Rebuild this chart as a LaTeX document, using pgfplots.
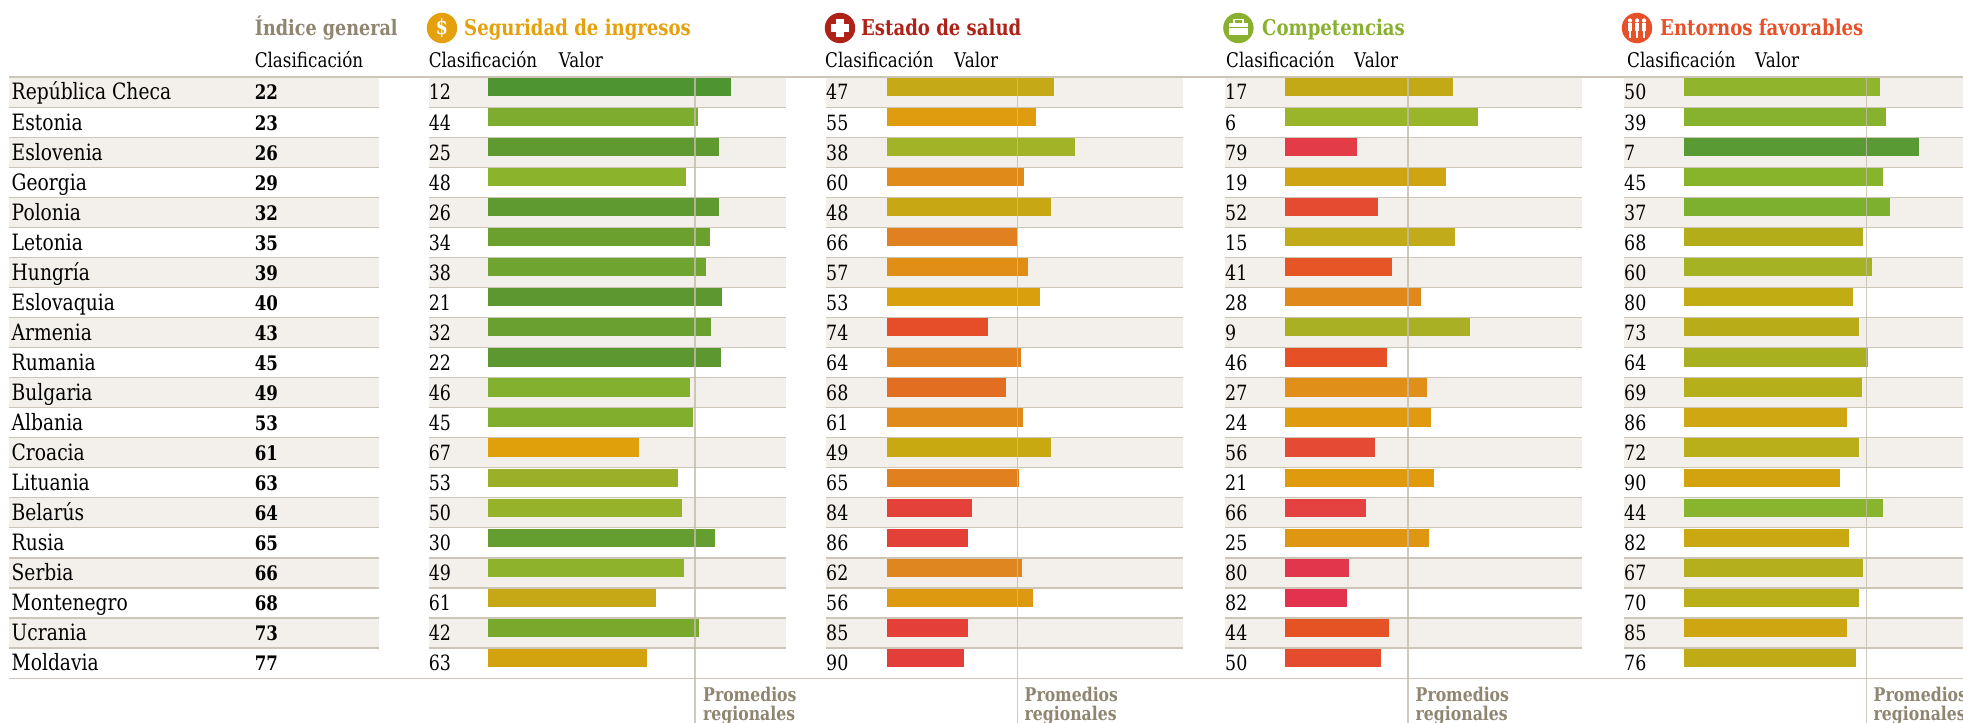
\documentclass[border=0pt]{standalone}
\usepackage{fontspec}
\setmainfont{DejaVu Serif}[FakeStretch=0.83]
\usepackage{pgfplots}
\pgfplotsset{compat=1.18}
\definecolor{band}{HTML}{F3F0EB}
\definecolor{rule}{HTML}{CDC5B7}
\definecolor{avgl}{HTML}{C4BCAC}
\definecolor{taupe}{HTML}{8F8570}
\definecolor{tOro}{HTML}{E5A00D}
\definecolor{tRojo}{HTML}{AE2217}
\definecolor{tVerde}{HTML}{8AB030}
\definecolor{tNar}{HTML}{E8502A}
\newcommand\C[2]{\definecolor{#1}{HTML}{#2}}
% Seguridad de ingresos
\C{a1}{4E9431}\C{a2}{7CAD2E}\C{a3}{5F9A30}\C{a4}{8BB32C}\C{a5}{5F9A30}\C{a6}{6BA02F}\C{a7}{70A430}\C{a8}{5C982F}\C{a9}{69A030}\C{a10}{5C982F}
\C{a11}{83B02E}\C{a12}{82AE2D}\C{a13}{DFA00C}\C{a14}{9BB028}\C{a15}{96B22A}\C{a16}{649E30}\C{a17}{8FB22C}\C{a18}{C6A816}\C{a19}{78A92D}\C{a20}{D2A30F}
% Estado de salud
\C{b1}{C5A916}\C{b2}{DF9C0E}\C{b3}{A2B328}\C{b4}{E08A1A}\C{b5}{C7A814}\C{b6}{E08020}\C{b7}{E08E16}\C{b8}{D8A00C}\C{b9}{E54E28}\C{b10}{E0801E}
\C{b11}{E26E22}\C{b12}{E08A1C}\C{b13}{C8A912}\C{b14}{E0801E}\C{b15}{E44238}\C{b16}{E34038}\C{b17}{E08620}\C{b18}{DD9A10}\C{b19}{E44038}\C{b20}{E33E3A}
% Competencias
\C{c1}{C4A917}\C{c2}{9AB52A}\C{c3}{E43C46}\C{c4}{CFA412}\C{c5}{E44B30}\C{c6}{C2AB18}\C{c7}{E55526}\C{c8}{E0881A}\C{c9}{A9B024}\C{c10}{E55026}
\C{c11}{E09018}\C{c12}{E09A10}\C{c13}{E44A34}\C{c14}{E09A0E}\C{c15}{E34240}\C{c16}{DF9612}\C{c17}{E2364C}\C{c18}{E3324E}\C{c19}{E55224}\C{c20}{E54C2E}
% Entornos favorables
\C{d1}{90B42C}\C{d2}{86B22E}\C{d3}{5A9A34}\C{d4}{88B42C}\C{d5}{7EB030}\C{d6}{B4AD1A}\C{d7}{A5B224}\C{d8}{C2AC14}\C{d9}{B8AD18}\C{d10}{A8B020}
\C{d11}{B6AF1C}\C{d12}{CEA812}\C{d13}{B9AF18}\C{d14}{D2A30E}\C{d15}{88B42E}\C{d16}{CAA812}\C{d17}{B4AF1C}\C{d18}{B9AF18}\C{d19}{CEA612}\C{d20}{BFAB16}
\newcommand\B[3]{\addplot[xbar,bar shift=0pt,bar width=18.2pt,draw=none,fill=#3] coordinates {(#1,#2)};}
\newcommand\Avg[1]{\addplot[avgl,line width=1.5pt,opacity=.8] coordinates {(#1,0.667) (#1,22.165)};}
\pgfplotsset{panel/.style={scale only axis,axis lines=none,width=#1pt,height=723pt,
  xmin=0,xmax=#1,ymin=-1.895,ymax=22.165,y dir=reverse,anchor=south west,clip=true}}
\tikzset{hf/.style={font=\fontsize{21.8}{21.8}\selectfont\bfseries},
  hg/.style={font=\fontsize{21.2}{21.2}\selectfont\bfseries},
  sb/.style={font=\fontsize{20.2}{20.2}\selectfont},
  rc/.style={font=\fontsize{22.5}{22.5}\selectfont},
  rt/.style={font=\fontsize{21}{21}\selectfont},
  rb/.style={font=\fontsize{20}{20}\selectfont\bfseries},
  pf/.style={font=\fontsize{18.9}{18.9}\selectfont\bfseries,text=taupe}}
\newcommand\T[4]{\node[anchor=base west,inner sep=0pt,#3] at (#1,{723-#2}) {#4};}
\newcommand\Row[7]{%
  \pgfmathsetmacro\rowy{100+30.05*(#1-1)}%
  \T{11.5}{\rowy}{rc}{#2}%
  \T{254.6}{\rowy}{rb}{#3}%
  \T{428.6}{\rowy}{rt}{#4}%
  \T{826}{\rowy}{rt}{#5}%
  \T{1225}{\rowy}{rt}{#6}%
  \T{1624}{\rowy}{rt}{#7}}
\begin{document}
\begin{tikzpicture}[x=1pt,y=1pt]
\useasboundingbox (0,0) rectangle (1963,723);
\clip (0,0) rectangle (1963,723);
% bands
\foreach \k in {1,3,...,19}{
  \pgfmathsetmacro\ya{723-(77.4+30.03*(\k-1))}
  \pgfmathsetmacro\yb{723-(77.4+30.03*\k)}
  \fill[band] (9,\ya) rectangle (379,\yb);
  \fill[band] (428.6,\ya) rectangle (785.7,\yb);
  \fill[band] (826,\ya) rectangle (1183,\yb);
  \fill[band] (1225,\ya) rectangle (1582,\yb);
  \fill[band] (1624,\ya) rectangle (1963,\yb);
}
% rules
\foreach \k in {1,...,19}{
  \pgfmathsetmacro\ya{723-(77.4+30.03*\k)}
  \draw[rule,line width=1.3pt] (9,\ya) -- (379,\ya);
  \draw[rule,line width=1.3pt] (428.6,\ya) -- (785.7,\ya);
  \draw[rule,line width=1.3pt] (826,\ya) -- (1183,\ya);
  \draw[rule,line width=1.3pt] (1225,\ya) -- (1582,\ya);
  \draw[rule,line width=1.3pt] (1624,\ya) -- (1963,\ya);
}
\draw[rule,line width=1.5pt] (9,{723-77.2}) -- (1963,{723-77.2});
\draw[rule,line width=1.3pt] (9,{723-678.5}) -- (1963,{723-678.5});
% Seguridad de ingresos
\begin{axis}[panel=1475,at={(488,0)}]
\B{243}{1}{a1}\B{210}{2}{a2}\B{231}{3}{a3}\B{198}{4}{a4}\B{231}{5}{a5}\B{222}{6}{a6}\B{218}{7}{a7}\B{234}{8}{a8}\B{223}{9}{a9}\B{233}{10}{a10}
\B{202}{11}{a11}\B{205}{12}{a12}\B{151}{13}{a13}\B{190}{14}{a14}\B{194}{15}{a15}\B{227}{16}{a16}\B{196}{17}{a17}\B{168}{18}{a18}\B{211}{19}{a19}\B{159}{20}{a20}
\Avg{207}
\end{axis}
% Estado de salud
\begin{axis}[panel=1076,at={(887,0)}]
\B{167}{1}{b1}\B{149}{2}{b2}\B{188}{3}{b3}\B{137}{4}{b4}\B{164}{5}{b5}\B{130}{6}{b6}\B{141}{7}{b7}\B{153}{8}{b8}\B{101}{9}{b9}\B{134}{10}{b10}
\B{119}{11}{b11}\B{136}{12}{b12}\B{164}{13}{b13}\B{132}{14}{b14}\B{85}{15}{b15}\B{81}{16}{b16}\B{135}{17}{b17}\B{146}{18}{b18}\B{81}{19}{b19}\B{77}{20}{b20}
\Avg{130.3}
\end{axis}
% Competencias
\begin{axis}[panel=678,at={(1285,0)}]
\B{168}{1}{c1}\B{193}{2}{c2}\B{72}{3}{c3}\B{161}{4}{c4}\B{93}{5}{c5}\B{170}{6}{c6}\B{107}{7}{c7}\B{136}{8}{c8}\B{185}{9}{c9}\B{102}{10}{c10}
\B{142}{11}{c11}\B{146}{12}{c12}\B{90}{13}{c13}\B{149}{14}{c14}\B{81}{15}{c15}\B{144}{16}{c16}\B{64}{17}{c17}\B{62}{18}{c18}\B{104}{19}{c19}\B{96}{20}{c20}
\Avg{123}
\end{axis}
% Entornos favorables
\begin{axis}[panel=279,at={(1684,0)}]
\B{196}{1}{d1}\B{202}{2}{d2}\B{235}{3}{d3}\B{199}{4}{d4}\B{206}{5}{d5}\B{179}{6}{d6}\B{188}{7}{d7}\B{169}{8}{d8}\B{175}{9}{d9}\B{184}{10}{d10}
\B{178}{11}{d11}\B{163}{12}{d12}\B{175}{13}{d13}\B{156}{14}{d14}\B{199}{15}{d15}\B{165}{16}{d16}\B{179}{17}{d17}\B{175}{18}{d18}\B{163}{19}{d19}\B{172}{20}{d20}
\Avg{182.3}
\end{axis}
% row texts
\Row{1}{República Checa}{22}{12}{47}{17}{50}
\Row{2}{Estonia}{23}{44}{55}{6}{39}
\Row{3}{Eslovenia}{26}{25}{38}{79}{7}
\Row{4}{Georgia}{29}{48}{60}{19}{45}
\Row{5}{Polonia}{32}{26}{48}{52}{37}
\Row{6}{Letonia}{35}{34}{66}{15}{68}
\Row{7}{Hungría}{39}{38}{57}{41}{60}
\Row{8}{Eslovaquia}{40}{21}{53}{28}{80}
\Row{9}{Armenia}{43}{32}{74}{9}{73}
\Row{10}{Rumania}{45}{22}{64}{46}{64}
\Row{11}{Bulgaria}{49}{46}{68}{27}{69}
\Row{12}{Albania}{53}{45}{61}{24}{86}
\Row{13}{Croacia}{61}{67}{49}{56}{72}
\Row{14}{Lituania}{63}{53}{65}{21}{90}
\Row{15}{Belarús}{64}{50}{84}{66}{44}
\Row{16}{Rusia}{65}{30}{86}{25}{82}
\Row{17}{Serbia}{66}{49}{62}{80}{67}
\Row{18}{Montenegro}{68}{61}{56}{82}{70}
\Row{19}{Ucrania}{73}{42}{85}{44}{85}
\Row{20}{Moldavia}{77}{63}{90}{50}{76}
% headers
\T{254.6}{35.8}{hg,text=taupe}{Índice general}
\T{464}{35.8}{hf,text=tOro}{Seguridad de ingresos}
\T{861}{35.8}{hf,text=tRojo}{Estado de salud}
\T{1262}{35.8}{hf,text=tVerde}{Competencias}
\T{1660}{35.8}{hf,text=tNar}{Entornos favorables}
\T{254.6}{67.8}{sb}{Clasificación}
\T{428.6}{67.8}{sb}{Clasificación}\T{558.7}{67.8}{sb}{Valor}
\T{825}{67.8}{sb}{Clasificación}\T{954}{67.8}{sb}{Valor}
\T{1226}{67.8}{sb}{Clasificación}\T{1354}{67.8}{sb}{Valor}
\T{1627}{67.8}{sb}{Clasificación}\T{1755}{67.8}{sb}{Valor}
% icons
\fill[tOro] (442,695) circle (15.2);
\node[text=white,font=\fontsize{21}{21}\selectfont\bfseries,inner sep=0pt] at (442,695) {\$};
\fill[tRojo] (840,695) circle (15.2);
\fill[white] (836,686) rectangle (844,704);
\fill[white] (831,691) rectangle (849,699);
\fill[tVerde] (1238.4,695) circle (15.2);
\fill[white] (1229,687.5) rectangle (1248,700);
\draw[white,line width=1.4pt] (1234,700) -- (1234,703.5) -- (1243,703.5) -- (1243,700);
\draw[tVerde,line width=1pt] (1229,695) -- (1248,695);
\fill[tNar] (1637,695) circle (15.2);
\foreach \dx in {-7,0,7}{
  \fill[white] ({1637+\dx},702.5) circle (2.1);
  \fill[white] ({1637+\dx-2.4},699.5) rectangle ({1637+\dx+2.4},692);
  \fill[white] ({1637+\dx-1.4},692) rectangle ({1637+\dx+1.4},685);
}
% Promedios regionales
\foreach \x in {703,1024.5,1415.5,1873.5}{
  \T{\x}{701.5}{pf}{Promedios}
  \T{\x}{721}{pf}{regionales}
}
\end{tikzpicture}
\end{document}
